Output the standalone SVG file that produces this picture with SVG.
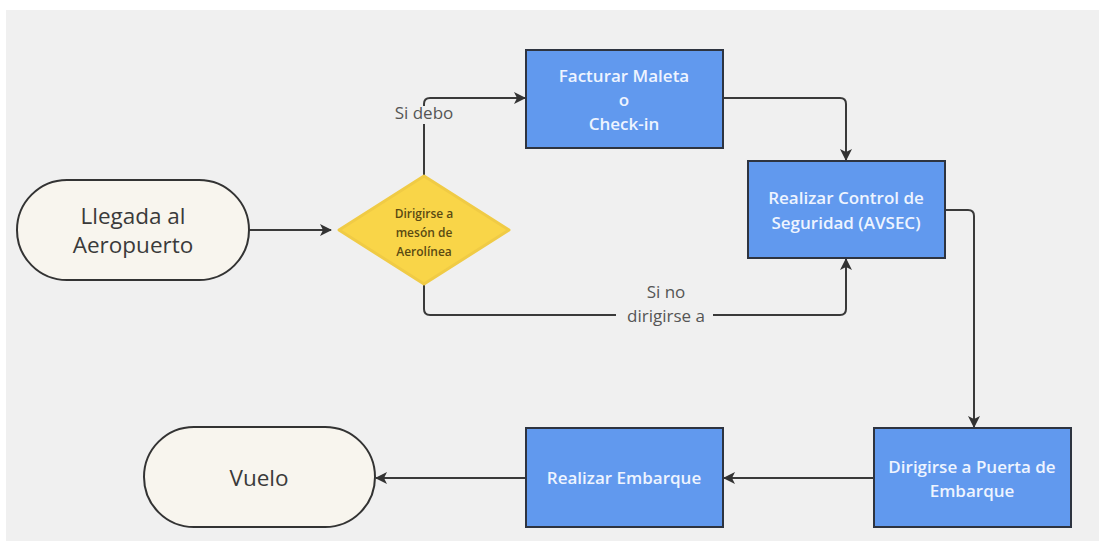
<svg xmlns="http://www.w3.org/2000/svg" width="1099" height="542" viewBox="0 0 1099 542">
  <style>
    .pill{fill:#F8F5EE;stroke:#333;stroke-width:2}
    .box{fill:#6199EE;stroke:#2E3440;stroke-width:2}
    .dia{fill:#F9D548;stroke:#F0CB45;stroke-width:3;stroke-linejoin:round}
    .t{font-family:"Open Sans","Noto Sans","Liberation Sans",sans-serif;text-anchor:middle}
    .big{font-size:22.5px;fill:#3a3a3a}
    .bt{font-size:17px;font-weight:600;fill:#EEF4FF}
    .dt{font-size:12px;font-weight:600;fill:#5a4a12}
    .lab{font-size:17px;fill:#555}
    .c{fill:none;stroke:#3a3a3a;stroke-width:2}
  </style>
  <defs>
    <marker id="ah" viewBox="0 0 12 12" refX="11" refY="6" markerWidth="12" markerHeight="12" markerUnits="userSpaceOnUse" orient="auto">
      <path d="M0,0 L12,6 L0,12 L3,6 Z" fill="#333"/>
    </marker>
  </defs>
  <rect x="0" y="0" width="1099" height="542" fill="#ffffff"/>
  <rect x="6" y="10" width="1093" height="531" fill="#F0F0F0"/>

  <g id="connectors">
    <path class="c" d="M249,230 H331" marker-end="url(#ah)"/>
    <path class="c" d="M424,175 V124"/>
    <path class="c" d="M424,106 V104 Q424,98 430,98 H525" marker-end="url(#ah)"/>
    <path class="c" d="M723,98 H840 Q846,98 846,104 V160" marker-end="url(#ah)"/>
    <path class="c" d="M945,210 H968 Q974,210 974,216 V427" marker-end="url(#ah)"/>
    <path class="c" d="M424,285 V309 Q424,315 430,315 H616"/>
    <path class="c" d="M713,315 H840 Q846,315 846,309 V259" marker-end="url(#ah)"/>
    <path class="c" d="M874,478 H724" marker-end="url(#ah)"/>
    <path class="c" d="M526,478 H376" marker-end="url(#ah)"/>
    <text class="t lab" x="424" y="119">Si debo</text>
    <text class="t lab" x="666" y="298">Si no</text>
    <text class="t lab" x="666" y="322">dirigirse a</text>
  </g>

  <g id="llegada">
    <rect class="pill" x="17" y="180" width="232" height="100" rx="50" ry="50"/>
    <text class="t big" x="133" y="224">Llegada al</text>
    <text class="t big" x="133" y="253">Aeropuerto</text>
  </g>

  <g id="decision">
    <path class="dia" d="M424,176 L509,230 L424,284 L339,230 Z"/>
    <text class="t dt" x="424" y="218">Dirigirse a</text>
    <text class="t dt" x="424" y="237">mesón de</text>
    <text class="t dt" x="424" y="256">Aerolínea</text>
  </g>

  <g id="facturar">
    <rect class="box" x="526" y="50" width="197" height="98"/>
    <text class="t bt" x="624" y="82">Facturar Maleta</text>
    <text class="t bt" x="624" y="106">o</text>
    <text class="t bt" x="624" y="130">Check-in</text>
  </g>

  <g id="control">
    <rect class="box" x="748" y="161" width="197" height="97"/>
    <text class="t bt" x="846" y="204">Realizar Control de</text>
    <text class="t bt" x="846" y="229">Seguridad (AVSEC)</text>
  </g>

  <g id="puerta">
    <rect class="box" x="874" y="428" width="197" height="99"/>
    <text class="t bt" x="972" y="473">Dirigirse a Puerta de</text>
    <text class="t bt" x="972" y="497">Embarque</text>
  </g>

  <g id="embarque">
    <rect class="box" x="526" y="428" width="197" height="99"/>
    <text class="t bt" x="624" y="484">Realizar Embarque</text>
  </g>

  <g id="vuelo">
    <rect class="pill" x="144" y="427" width="231" height="100" rx="50" ry="50"/>
    <text class="t big" x="259" y="486">Vuelo</text>
  </g>
</svg>
